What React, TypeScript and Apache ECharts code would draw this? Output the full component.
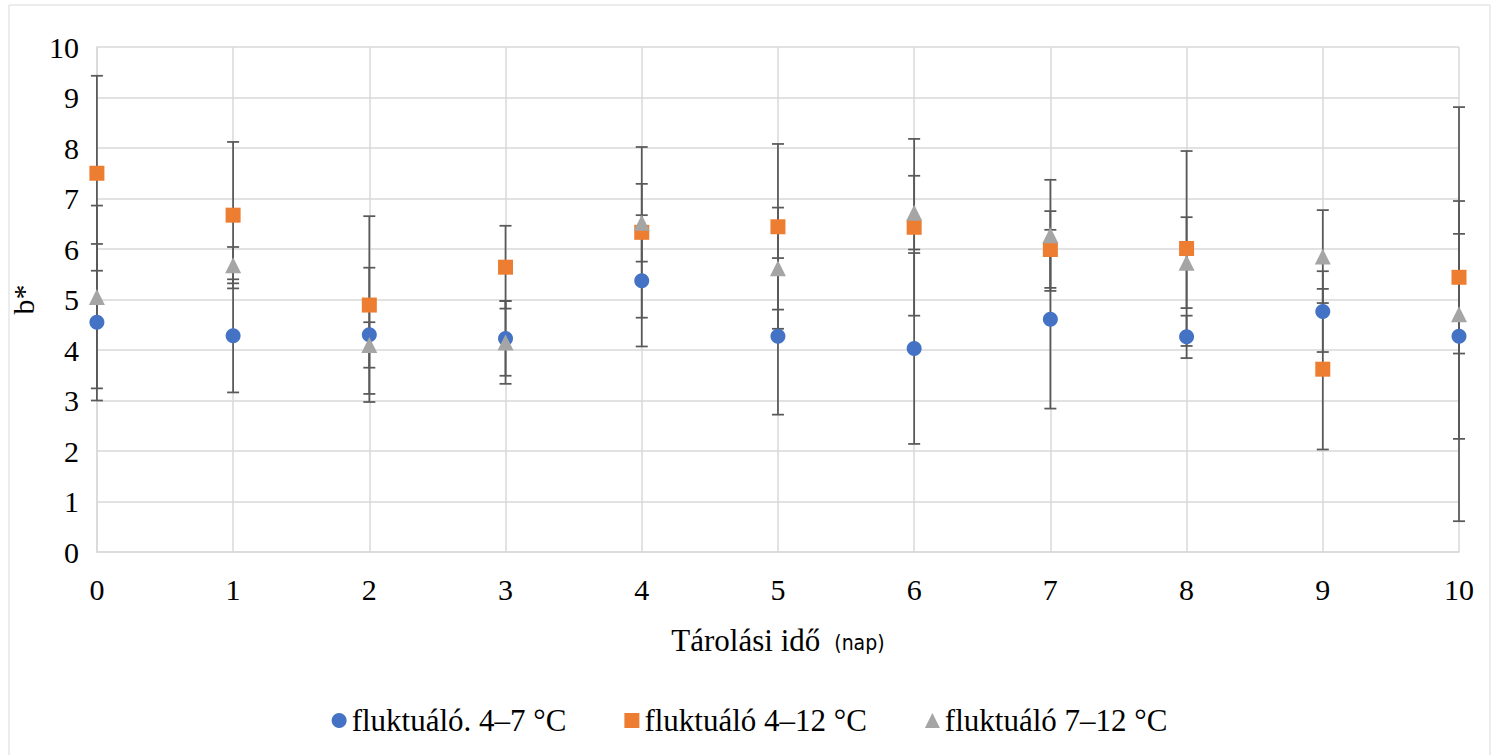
import React, { useEffect, useRef } from "react";
import * as echarts from "echarts";

const days = [0, 1, 2, 3, 4, 5, 6, 7, 8, 9, 10];
const yTicks = [0, 1, 2, 3, 4, 5, 6, 7, 8, 9, 10];
const seriesNames = ["fluktuáló. 4–7 °C", "fluktuáló 4–12 °C", "fluktuáló 7–12 °C"];
const blueVals = [4.55, 4.28, 4.3, 4.23, 5.37, 4.27, 4.03, 4.61, 4.26, 4.76, 4.27];
const blueErr = [1.55, 1.12, 1.33, 0.74, 1.3, 1.55, 1.89, 1.77, 0.42, 0.8, 2.03];
const orangeVals = [7.5, 6.67, 4.89, 5.64, 6.33, 6.44, 6.43, 5.99, 6.01, 3.62, 5.44];
const orangeErr = [1.93, 1.45, 1.76, 0.82, 1.69, 1.64, 1.75, 0.76, 1.93, 1.59, 1.51];
const grayVals = [5.05, 5.68, 4.1, 4.15, 6.52, 5.62, 6.72, 6.27, 5.73, 5.85, 4.71];
const grayErr = [1.81, 0.36, 0.45, 0.82, 0.77, 1.2, 0.73, 1.1, 0.9, 0.92, 4.1];

const colors = ["#4472C4", "#ED7D31", "#A5A5A5"];
const symbols = ["circle", "rect", "triangle"];
const SERIF = "'Liberation Serif', 'Times New Roman', serif";

export default function App() {
  const ref = useRef<HTMLDivElement>(null);
  useEffect(() => {
    if (!ref.current) return;
    const chart = echarts.init(ref.current, undefined, { renderer: "svg" });
    const vals = [blueVals, orangeVals, grayVals];
    const errs = [blueErr, orangeErr, grayErr];

    const errSeries = vals.map((v, si) => ({
      type: "custom",
      name: seriesNames[si] + " err",
      z: 1,
      silent: true,
      data: days.map((d, i) => [d, v[i], errs[si][i]]),
      renderItem: (params: any, api: any) => {
        const x = api.value(0);
        const y = api.value(1);
        const e = api.value(2);
        const top = api.coord([x, y + e]);
        const bot = api.coord([x, y - e]);
        const hw = 6;
        const st = { stroke: "#595959", lineWidth: 1.75 };
        return {
          type: "group",
          children: [
            { type: "line", shape: { x1: top[0], y1: top[1], x2: bot[0], y2: bot[1] }, style: st },
            { type: "line", shape: { x1: top[0] - hw, y1: top[1], x2: top[0] + hw, y2: top[1] }, style: st },
            { type: "line", shape: { x1: bot[0] - hw, y1: bot[1], x2: bot[0] + hw, y2: bot[1] }, style: st },
          ],
        };
      },
    }));

    const scatterSeries = vals.map((v, si) => ({
      type: "scatter",
      name: seriesNames[si],
      z: 3,
      symbol: symbols[si],
      symbolSize: si === 2 ? 16 : 15,
      itemStyle: { color: colors[si], opacity: 1 },
      data: days.map((d, i) => [d, v[i]]),
    }));

    chart.setOption({
      animation: false,
      backgroundColor: "#ffffff",
      textStyle: { fontFamily: SERIF },
      graphic: [
        {
          type: "rect",
          shape: { x: 9, y: 5, width: 1481, height: 760 },
          style: { fill: "none", stroke: "#d9d9d9", lineWidth: 1 },
          silent: true,
        },
      ],
      grid: { left: 96, right: 40, top: 47, bottom: 203 },
      legend: {
        bottom: 14,
        left: "center",
        itemGap: 58,
        itemWidth: 15,
        itemHeight: 15,
        data: seriesNames.map((n, i) => ({ name: n, icon: symbols[i] })),
        textStyle: { fontFamily: SERIF, fontSize: 31, color: "#000" },
      },
      xAxis: {
        type: "value",
        min: 0,
        max: 10,
        interval: 1,
        name: "{a|Tárolási idő}{b|(nap)}",
        nameLocation: "middle",
        nameGap: 70,
        nameTextStyle: {
          rich: {
            a: { fontFamily: SERIF, fontSize: 31, color: "#000", lineHeight: 36, verticalAlign: "middle" },
            b: {
              fontFamily: "'DejaVu Sans Condensed', 'DejaVu Sans', sans-serif",
              fontSize: 21,
              color: "#000",
              lineHeight: 36,
              verticalAlign: "middle",
              padding: [6, 0, 0, 14],
            },
          },
        },
        axisLine: { show: true, lineStyle: { color: "#d9d9d9", width: 1.5 } },
        axisTick: { show: false },
        axisLabel: { fontFamily: SERIF, fontSize: 30, color: "#000", margin: 22 },
        splitLine: { show: true, lineStyle: { color: "#d9d9d9", width: 1.5 } },
      },
      yAxis: {
        type: "value",
        min: 0,
        max: 10,
        interval: 1,
        name: "b*",
        nameLocation: "middle",
        nameGap: 50,
        nameRotate: 90,
        nameTextStyle: { fontFamily: SERIF, fontSize: 30, color: "#000" },
        axisLine: { show: true, lineStyle: { color: "#d9d9d9", width: 1.5 } },
        axisTick: { show: false },
        axisLabel: { fontFamily: SERIF, fontSize: 30, color: "#000", margin: 18 },
        splitLine: { show: true, lineStyle: { color: "#d9d9d9", width: 1.5 } },
      },
      series: [...errSeries, ...scatterSeries],
    });
    return () => chart.dispose();
  }, []);
  return (
    <div
      ref={ref}
      style={{ position: "fixed", left: 0, top: 0, width: 1499, height: 755, background: "#fff" }}
    />
  );
}
